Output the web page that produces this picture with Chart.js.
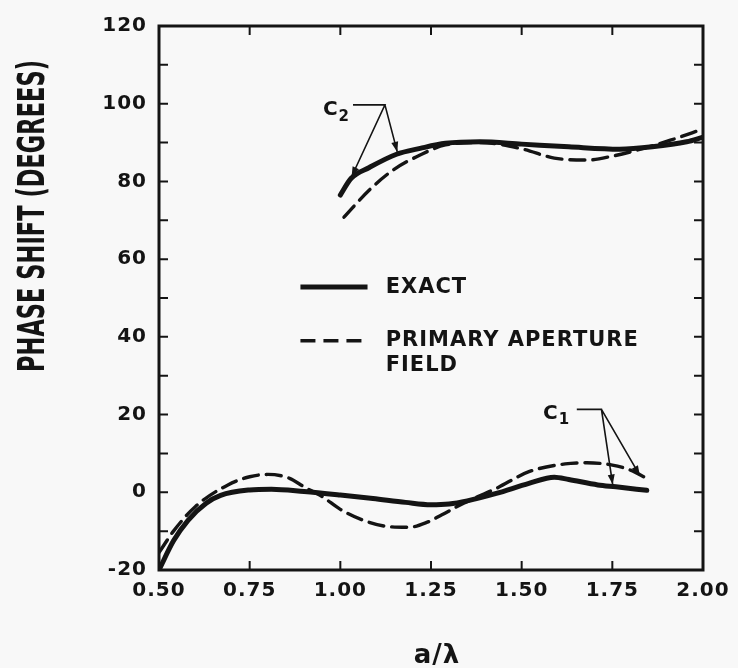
<!DOCTYPE html>
<html><head><meta charset="utf-8">
<script src="https://cdn.jsdelivr.net/npm/chart.js@4.4.1/dist/chart.umd.min.js"></script>
<style>
html,body{margin:0;padding:0;background:#f8f8f8;}
#wrap{position:relative;width:738px;height:668px;}
</style></head><body>
<div id="wrap"><canvas id="c" width="738" height="668"></canvas></div>
<script>
// ---- tick labels ----
const xTickValues = [0.50, 0.75, 1.00, 1.25, 1.50, 1.75, 2.00];
const xTickLabels = ['0.50', '0.75', '1.00', '1.25', '1.50', '1.75', '2.00'];
const yTickValues = [-20, 0, 20, 40, 60, 80, 100, 120];
const yMinorTicks = [-10, 10, 30, 50, 70, 90, 110];
const seriesNames = ['EXACT', 'PRIMARY APERTURE', 'FIELD'];
const xTitle = 'a/λ';
const yTitle = 'PHASE SHIFT (DEGREES)';

// ---- C1 (lower) curves ----
const exactLowX = [0.50, 0.54, 0.58, 0.63, 0.67, 0.75, 0.81, 0.90, 1.00, 1.09, 1.18, 1.25, 1.30, 1.35, 1.43, 1.52, 1.59, 1.63, 1.71, 1.76, 1.845];
const exactLowY = [-20, -12.5, -7.2, -2.8, -0.8, 0.6, 0.8, 0.2, -0.7, -1.6, -2.6, -3.2, -3.0, -2.2, -0.3, 2.3, 3.9, 3.3, 1.9, 1.4, 0.5];
const primLowX = [0.50, 0.54, 0.60, 0.69, 0.75, 0.80, 0.86, 0.90, 0.95, 1.00, 1.06, 1.13, 1.19, 1.24, 1.28, 1.34, 1.43, 1.52, 1.62, 1.68, 1.75, 1.80, 1.845];
const primLowY = [-15.5, -10, -3.7, 1.9, 4.0, 4.6, 3.6, 1.4, -1.1, -4.4, -7.1, -8.8, -9.0, -7.7, -5.8, -2.8, 1.0, 5.3, 7.3, 7.6, 7.0, 5.7, 3.6];

// ---- C2 (upper) curves ----
const exactHighX = [1.00, 1.03, 1.08, 1.155, 1.22, 1.29, 1.385, 1.50, 1.63, 1.77, 1.86, 1.955, 2.00];
const exactHighY = [76.5, 80.8, 83.6, 87.0, 88.5, 89.8, 90.2, 89.6, 88.9, 88.3, 88.9, 90.2, 91.4];
const primHighX = [1.01, 1.08, 1.145, 1.22, 1.29, 1.385, 1.50, 1.59, 1.68, 1.75, 1.82, 1.91, 2.00];
const primHighY = [70.8, 77.8, 82.9, 86.8, 89.4, 90.0, 88.4, 86.0, 85.5, 86.5, 88.1, 90.6, 93.5];

// ---- leader lines (label end -> corner -> tips), in data units ----
const c2LeaderX = [1.035, 1.123, 1.031, null, 1.123, 1.157];
const c2LeaderY = [99.7, 99.7, 81.2, null, 99.7, 87.6];
const c1LeaderX = [1.652, 1.72, 1.751, null, 1.72, 1.826];
const c1LeaderY = [21.35, 21.35, 2.0, null, 21.35, 4.3];

const zip = (xs, ys) => xs.map((x, i) => ({x: x, y: ys[i]}));
const INK = '#141414';
const FONT = "'DejaVu Sans', 'Liberation Sans', sans-serif";

// layout (not data): where the in-plot labels sit, in axis units
const legendPos = {lineX0: 0.89, lineX1: 1.075, textX: 1.125, rowExact: 52.8, rowPrim: 39.0, rowField: 32.7};
const calloutPos = [{text: 'C', sub: '2', x: 0.952, y: 98.4}, {text: 'C', sub: '1', x: 1.559, y: 20.3}];

const drawPlugin = {
  id: 'decor',
  beforeDraw(chart) {
    chart.ctx.letterSpacing = '1px';
  },
  afterDatasetsDraw(chart) {
    const ctx = chart.ctx;
    const xs = chart.scales.x, ys = chart.scales.y;
    const a = chart.chartArea;
    const P = (x, y) => [xs.getPixelForValue(x), ys.getPixelForValue(y)];
    ctx.save();
    ctx.letterSpacing = '0px';
    ctx.strokeStyle = INK; ctx.fillStyle = INK;
    // inward ticks
    ctx.lineWidth = 2;
    ctx.beginPath();
    xTickValues.forEach(v => {
      if (v <= xs.min || v >= xs.max) return;
      const p = xs.getPixelForValue(v);
      ctx.moveTo(p, a.bottom); ctx.lineTo(p, a.bottom - 9);
      ctx.moveTo(p, a.top); ctx.lineTo(p, a.top + 9);
    });
    yTickValues.concat(yMinorTicks).forEach(v => {
      if (v <= ys.min || v >= ys.max) return;
      const p = ys.getPixelForValue(v);
      ctx.moveTo(a.left, p); ctx.lineTo(a.left + 9, p);
      ctx.moveTo(a.right, p); ctx.lineTo(a.right - 9, p);
    });
    ctx.stroke();
    // frame
    ctx.lineWidth = 3;
    ctx.strokeRect(a.left, a.top, a.right - a.left, a.bottom - a.top);

    // arrowheads on leaders
    const heads = [[c2LeaderX, c2LeaderY], [c1LeaderX, c1LeaderY]];
    heads.forEach(([lx, ly]) => {
      [[1, 2], [4, 5]].forEach(([ci, ti]) => {
        const [cx, cy] = P(lx[ci], ly[ci]);
        const [tx, ty] = P(lx[ti], ly[ti]);
        const ang = Math.atan2(ty - cy, tx - cx);
        const L = 10, W = 3.5;
        ctx.beginPath();
        ctx.moveTo(tx, ty);
        ctx.lineTo(tx - L * Math.cos(ang) + W * Math.sin(ang), ty - L * Math.sin(ang) - W * Math.cos(ang));
        ctx.lineTo(tx - L * Math.cos(ang) - W * Math.sin(ang), ty - L * Math.sin(ang) + W * Math.cos(ang));
        ctx.closePath(); ctx.fill();
      });
    });

    // callout labels with subscripts
    ctx.textBaseline = 'middle'; ctx.textAlign = 'left';
    calloutPos.forEach(c => {
      const [x, y] = P(c.x, c.y);
      ctx.font = 'bold 20px ' + FONT;
      ctx.fillText(c.text, x, y);
      const w = ctx.measureText(c.text).width;
      ctx.font = 'bold 15px ' + FONT;
      ctx.fillText(c.sub, x + w + 1, y + 7);
    });

    // legend
    ctx.lineCap = 'butt';
    let [l0, r1] = [xs.getPixelForValue(legendPos.lineX0), xs.getPixelForValue(legendPos.lineX1)];
    let yE = ys.getPixelForValue(legendPos.rowExact), yP = ys.getPixelForValue(legendPos.rowPrim), yF = ys.getPixelForValue(legendPos.rowField);
    ctx.lineWidth = 5; ctx.setLineDash([]);
    ctx.beginPath(); ctx.moveTo(l0, yE); ctx.lineTo(r1, yE); ctx.stroke();
    ctx.lineWidth = 3.5; ctx.setLineDash([15, 8]);
    ctx.beginPath(); ctx.moveTo(l0, yP); ctx.lineTo(r1, yP); ctx.stroke();
    ctx.setLineDash([]);
    const tx = xs.getPixelForValue(legendPos.textX);
    ctx.font = 'bold 21px ' + FONT;
    ctx.letterSpacing = '1px';
    ctx.fillText(seriesNames[0], tx, yE);
    ctx.fillText(seriesNames[1], tx, yP);
    ctx.fillText(seriesNames[2], tx, yF);

    // axis titles
    ctx.letterSpacing = '1px';
    ctx.textAlign = 'center';
    ctx.font = 'bold 26px ' + FONT;
    ctx.fillText(xTitle, (a.left + a.right) / 2 + 6, 656);

    ctx.letterSpacing = '0px';
    ctx.font = 'bold 37px ' + FONT;
    const tw = ctx.measureText(yTitle).width;
    const target = 312;
    ctx.translate(34, 216);
    ctx.rotate(-Math.PI / 2);
    ctx.scale(target / tw, 1);
    ctx.fillText(yTitle, 0, 0);
    ctx.restore();
  }
};

const lineDs = (label, data, width, dash) => ({
  label: label, data: data, borderColor: INK, borderWidth: width, borderDash: dash,
  pointRadius: 0, fill: false, tension: 0.4, cubicInterpolationMode: 'monotone', borderCapStyle: 'round'
});

new Chart(document.getElementById('c'), {
  type: 'line',
  data: {
    datasets: [
      {label: 'C2 leader', data: zip(c2LeaderX, c2LeaderY), borderColor: INK, borderWidth: 1.6, pointRadius: 0, tension: 0, spanGaps: false},
      {label: 'C1 leader', data: zip(c1LeaderX, c1LeaderY), borderColor: INK, borderWidth: 1.6, pointRadius: 0, tension: 0, spanGaps: false},
      lineDs('Exact (C1)', zip(exactLowX, exactLowY), 5, []),
      lineDs('Primary aperture field (C1)', zip(primLowX, primLowY), 3.4, [15, 8]),
      lineDs('Exact (C2)', zip(exactHighX, exactHighY), 5, []),
      lineDs('Primary aperture field (C2)', zip(primHighX, primHighY), 3.4, [15, 8])
    ]
  },
  options: {
    responsive: false,
    maintainAspectRatio: false,
    animation: false,
    devicePixelRatio: 1,
    layout: {padding: {top: 26, right: 35, left: 0, bottom: 0}},
    plugins: {legend: {display: false}, tooltip: {enabled: false}},
    scales: {
      x: {
        type: 'linear', min: 0.5, max: 2.0,
        afterBuildTicks: s => { s.ticks = xTickValues.map(v => ({value: v})); },
        afterFit: s => { s.height = 98; },
        grid: {display: false, drawTicks: false},
        border: {display: false},
        ticks: {
          autoSkip: false, maxRotation: 0, padding: 9, color: INK,
          font: {family: FONT, size: 20, weight: 'bold'},
          callback: v => { const i = xTickValues.findIndex(t => Math.abs(t - v) < 1e-6); return i >= 0 ? xTickLabels[i] : ''; }
        }
      },
      y: {
        type: 'linear', min: -20, max: 120,
        afterBuildTicks: s => { s.ticks = yTickValues.map(v => ({value: v})); },
        afterFit: s => { s.width = 159; },
        grid: {display: false, drawTicks: false},
        border: {display: false},
        ticks: {
          autoSkip: false, padding: 12, color: INK,
          font: {family: FONT, size: 20, weight: 'bold'},
          callback: v => String(v)
        }
      }
    }
  },
  plugins: [drawPlugin]
});
</script>
</body></html>
